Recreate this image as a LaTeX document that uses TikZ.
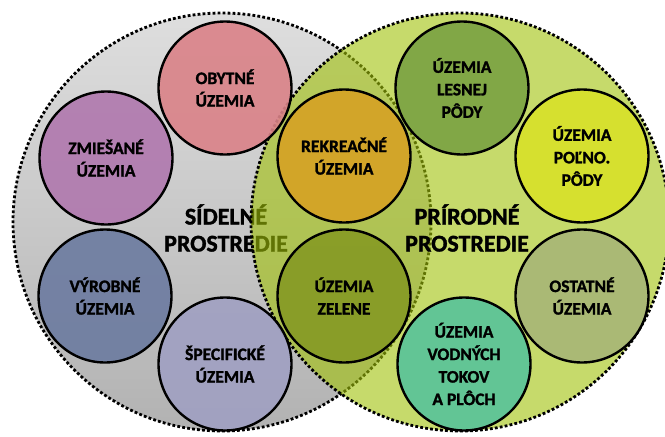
\documentclass[tikz,border=0pt]{standalone}
\usepackage{fontspec}
\setmainfont{Carlito}
\newfontfamily\tucne{Carlito Bold}[FakeBold=1.5]

\definecolor{sivahore}{RGB}{222,222,222}
\definecolor{sivadole}{RGB}{178,178,178}
\definecolor{zelenkava}{RGB}{160,193,8}
\definecolor{obytne}{RGB}{218,130,136}
\definecolor{zmiesane}{RGB}{176,120,174}
\definecolor{vyrobne}{RGB}{108,123,160}
\definecolor{specificke}{RGB}{160,160,194}
\definecolor{rekreacne}{RGB}{214,162,36}
\definecolor{zelene}{RGB}{134,154,36}
\definecolor{lesne}{RGB}{122,162,66}
\definecolor{polnohosp}{RGB}{216,226,40}
\definecolor{ostatne}{RGB}{168,182,118}
\definecolor{vodne}{RGB}{88,196,154}

\begin{document}
\begin{tikzpicture}[x=1pt, y=-1pt,
    hranica/.style={line width=2.8pt, dash pattern=on 2.8pt off 2.2pt},
    zona/.style={circle, draw, line width=2.4pt, minimum size=133pt, inner sep=0pt,
        align=center, fill opacity=0.9, draw opacity=1, text opacity=1,
        font=\tucne\fontsize{17.5}{22.5}\selectfont},
    prostredie/.style={align=center, font=\tucne\fontsize{24}{27}\selectfont}]
    \useasboundingbox (0,0) rectangle (665,437);
    \clip (0,0) rectangle (665,437);
    % sidelne prostredie
    \shade[top color=sivahore, bottom color=sivadole] (222,222) circle[radius=209pt];
    \draw[hranica] (222,222) circle[radius=209pt];
    \node[prostredie] (sidelne) at (226,228) {SÍDELNÉ\\PROSTREDIE};
    % prirodne prostredie
    \fill[zelenkava, fill opacity=0.6] (460,222) circle[radius=209pt];
    \draw[hranica] (460,222) circle[radius=209pt];
    % zony
    \node[zona, fill=obytne] (obytne) at (225,88) {OBYTNÉ\\ÚZEMIA};
    \node[zona, fill=zmiesane] (zmiesane) at (106,158) {ZMIEŠANÉ\\ÚZEMIA};
    \node[zona, fill=vyrobne] (vyrobne) at (105,296) {VÝROBNÉ\\ÚZEMIA};
    \node[zona, fill=specificke] (specificke) at (225,364) {ŠPECIFICKÉ\\ÚZEMIA};
    \node[zona, fill=rekreacne] (rekreacne) at (344,156) {REKREAČNÉ\\ÚZEMIA};
    \node[zona, fill=zelene] (zelene) at (344,296) {ÚZEMIA\\ZELENE};
    \node[zona, fill=lesne] (lesne) at (462,88) {ÚZEMIA\\LESNEJ\\PÔDY};
    \node[zona, fill=polnohosp] (polnohosp) at (582,156) {ÚZEMIA\\POĽNO.\\PÔDY};
    \node[zona, fill=ostatne] (ostatne) at (582,296) {OSTATNÉ\\ÚZEMIA};
    \node[zona, fill=vodne] (vodne) at (464,364) {ÚZEMIA\\VODNÝCH\\TOKOV\\A PLÔCH};
    \node[prostredie] (prirodne) at (467,228) {PRÍRODNÉ\\PROSTREDIE};
\end{tikzpicture}
\end{document}
